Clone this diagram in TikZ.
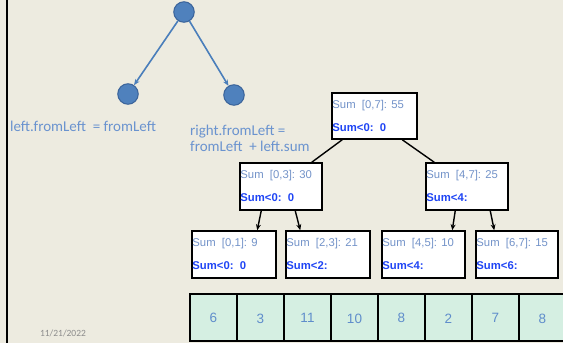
\documentclass[tikz,border=0pt]{standalone}
\usepackage{fontspec}
\setmainfont{Liberation Sans}
\newfontfamily\calib{Carlito}
\usetikzlibrary{arrows.meta,calc}
\definecolor{bg}{HTML}{EDEBE0}
\definecolor{circfill}{HTML}{4F81BD}
\definecolor{circdraw}{HTML}{3A639A}
\definecolor{arrowblue}{HTML}{4A7EBB}
\definecolor{annot}{HTML}{6A93CF}
\definecolor{sumtxt}{HTML}{7393C9}
\definecolor{boldtxt}{HTML}{1F45F5}
\definecolor{cellfill}{HTML}{D5EFE2}
\definecolor{numtxt}{HTML}{5F8DCB}
\definecolor{datetxt}{HTML}{8C8C8C}
\begin{document}
\begin{tikzpicture}[x=1pt,y=-1pt,
  treenode/.style={circle, fill=circfill, draw=circdraw, line width=1pt, minimum size=20.5pt, inner sep=0pt},
  sumbox/.style={draw=black, line width=1.5pt, fill=white, inner sep=0pt},
  sumline/.style={anchor=west, inner sep=0pt, text=sumtxt, font=\fontsize{11.3}{13}\selectfont},
  boldline/.style={anchor=west, inner sep=0pt, text=boldtxt, font=\bfseries\fontsize{11.3}{13}\selectfont},
  annottext/.style={text=annot, inner sep=0pt, align=left, font=\calib\fontsize{15}{16}\selectfont},
  bluearrow/.style={draw=arrowblue, line width=1.6pt, -{Stealth[length=6pt,width=5pt]}},
  blackline/.style={draw=black, line width=1.4pt},
  blackarrow/.style={draw=black, line width=1.4pt, -{Stealth[length=6pt,width=5pt]}},
  cell/.style={draw=black, line width=1.5pt, fill=cellfill, minimum width=47pt, minimum height=47pt, inner sep=0pt},
  numtext/.style={text=numtxt, inner sep=0pt, font=\fontsize{13.5}{15}\selectfont}
]
\useasboundingbox (0,0) rectangle (563,343);
\fill[bg] (0,0) rectangle (563,343);
\draw[line width=2pt] (7,-2) -- (7,345);

% small tree
\node[treenode] (top) at (184,12) {};
\node[treenode] (lc) at (128,94) {};
\node[treenode] (rc) at (234,95) {};
\draw[bluearrow] (top) -- (lc);
\draw[bluearrow] (top) -- (rc);
\node[annottext, anchor=west] (lt) at (10,126) {left.fromLeft\ \ = fromLeft};
\node[annottext, anchor=west] (rt) at (190,138) {right.fromLeft =\\fromLeft\ \ + left.sum};

% sum boxes
\node[sumbox, minimum width=85pt, minimum height=46pt] (b07) at (374.5,116) {};
\node[sumbox, minimum width=82pt, minimum height=47pt] (b03) at (281,186.5) {};
\node[sumbox, minimum width=82pt, minimum height=47pt] (b47) at (467,186.5) {};
\node[sumbox, minimum width=84pt, minimum height=47pt] (b01) at (234,254.5) {};
\node[sumbox, minimum width=84pt, minimum height=47pt] (b23) at (328,254.5) {};
\node[sumbox, minimum width=83pt, minimum height=47pt] (b45) at (423.5,254.5) {};
\node[sumbox, minimum width=82pt, minimum height=47pt] (b67) at (517,254.5) {};

\foreach \b/\s/\t in {b07/{Sum\ \ [0,7]: 55}/{Sum<0:\ \ 0},
                      b03/{Sum\ \ [0,3]: 30}/{Sum<0:\ \ 0},
                      b47/{Sum\ \ [4,7]: 25}/{Sum<4:},
                      b01/{Sum\ \ [0,1]: 9}/{Sum<0:\ \ 0},
                      b23/{Sum\ \ [2,3]: 21}/{Sum<2:},
                      b45/{Sum\ \ [4,5]: 10}/{Sum<4:},
                      b67/{Sum\ \ [6,7]: 15}/{Sum<6:}} {
  \node[sumline] (\b s) at ($(\b.north west)+(1,13.5)$) {\s};
  \node[boldline] (\b t) at ($(\b.north west)+(1,35.5)$) {\t};
}

% connectors
\draw[blackline] ($(b07.south west)+(11,0)$) -- ($(b03.north east)+(-11,0)$);
\draw[blackline] ($(b07.south west)+(71,0)$) -- ($(b47.north west)+(9,0)$);
\draw[blackarrow] ($(b03.south west)+(22,0)$) -- ($(b01.north west)+(66,0)$);
\draw[blackarrow] ($(b03.south west)+(56,0)$) -- ($(b23.north west)+(15,0)$);
\draw[blackarrow] ($(b47.south west)+(30,0)$) -- ($(b45.north west)+(71,0)$);
\draw[blackarrow] ($(b47.south west)+(65,0)$) -- ($(b67.north west)+(19,0)$);

% array
\foreach \v [count=\i] in {6,3,11,10,8,2,7,8} {
  \node[cell] (c\i) at ({213.5+47*(\i-1)},317.5) {};
  \pgfmathsetmacro{\dy}{ifthenelse(isodd(\i),0,1.5)}
  \node[numtext] (n\i) at ($(c\i.center)+(0,\dy)$) {\v};
}

\node[text=datetxt, inner sep=0pt, font=\calib\fontsize{9.5}{11}\selectfont] (date) at (63,333) {11/21/2022};
\end{tikzpicture}
\end{document}
